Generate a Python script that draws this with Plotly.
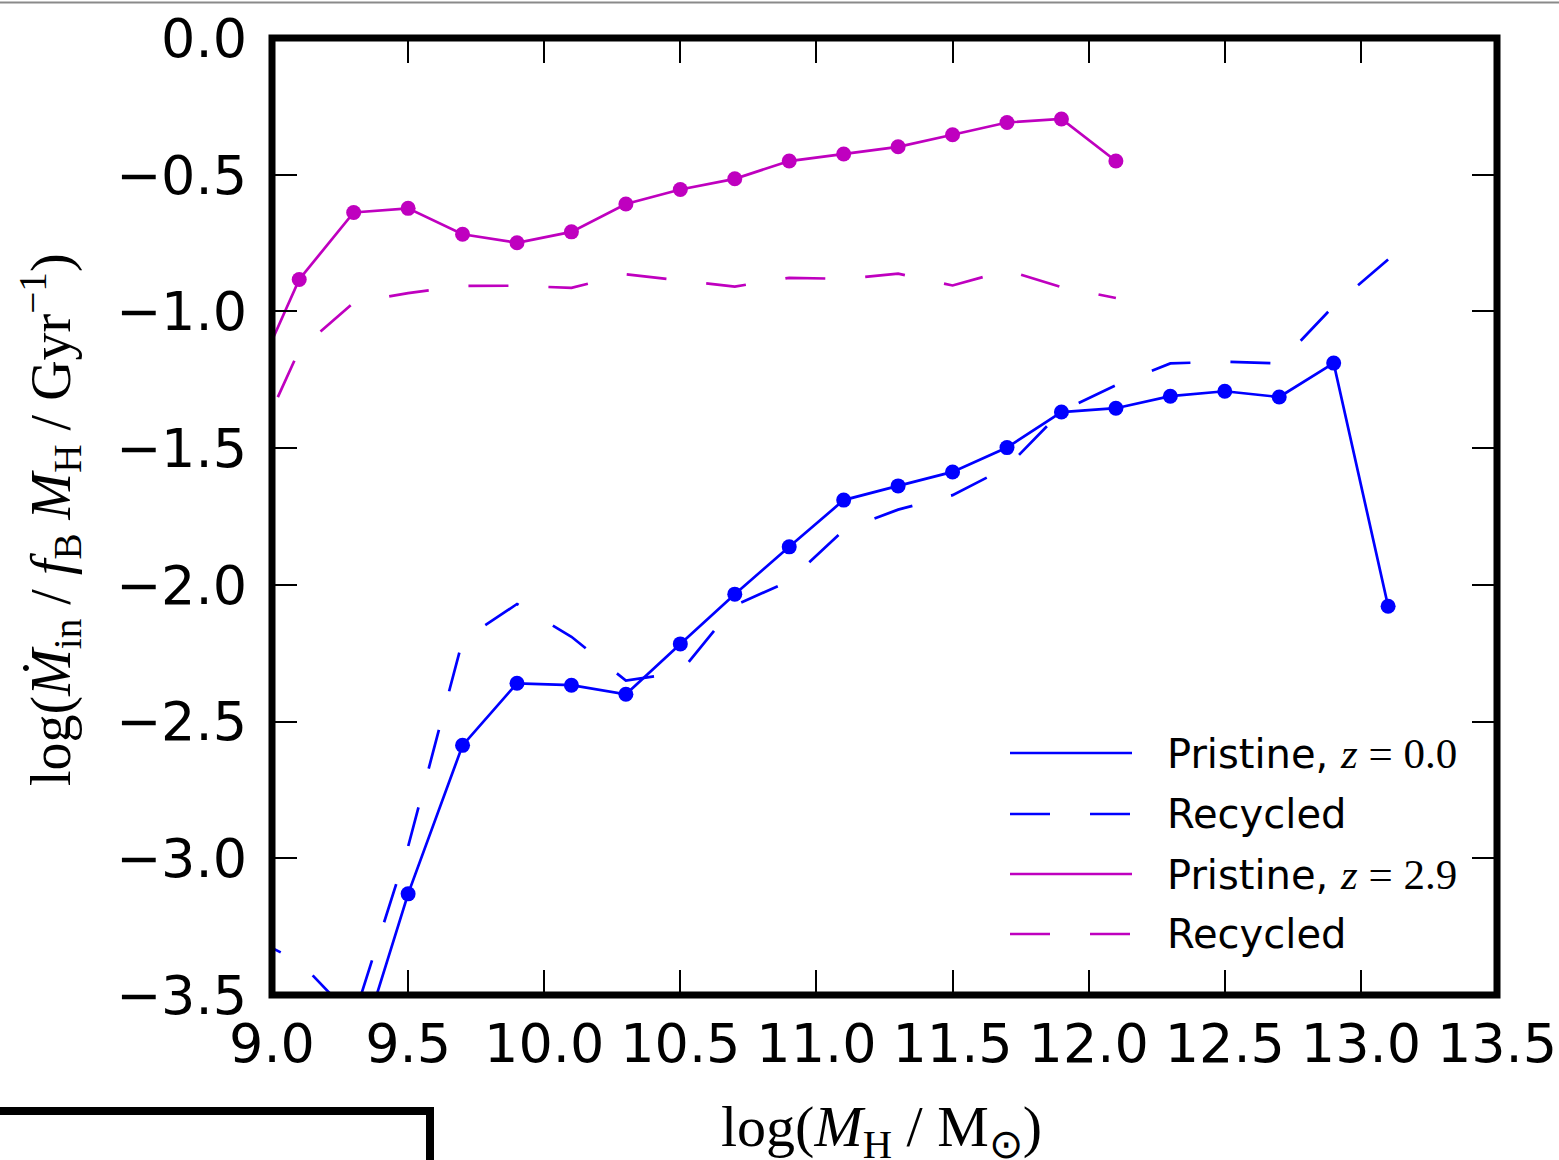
import plotly.graph_objects as go

# Halo mass bins, log(M_H / Msun)
mass_z0 = [9.3, 9.5, 9.7, 9.9, 10.1, 10.3, 10.5, 10.7, 10.9, 11.1, 11.3,
           11.5, 11.7, 11.9, 12.1, 12.3, 12.5, 12.7, 12.9, 13.1]
pristine_z0 = [-3.77, -3.13, -2.587, -2.36, -2.367, -2.40, -2.216, -2.034,
               -1.861, -1.69, -1.638, -1.587, -1.498, -1.368, -1.354, -1.31,
               -1.292, -1.313, -1.189, -2.078]

mass_z0_rec = [8.9, 9.1, 9.3, 9.5, 9.7, 9.9, 10.1, 10.3, 10.5, 10.7, 10.9,
               11.1, 11.3, 11.5, 11.7, 11.9, 12.1, 12.3, 12.5, 12.7, 12.9, 13.1]
recycled_z0 = [-3.28, -3.377, -3.585, -2.957, -2.203, -2.07, -2.19, -2.35,
               -2.32, -2.075, -1.986, -1.80, -1.725, -1.672, -1.57, -1.365,
               -1.27, -1.19, -1.184, -1.19, -0.98, -0.81]

mass_z29 = [8.9, 9.1, 9.3, 9.5, 9.7, 9.9, 10.1, 10.3, 10.5, 10.7, 10.9,
            11.1, 11.3, 11.5, 11.7, 11.9, 12.1]
pristine_z29 = [-1.33, -0.883, -0.638, -0.623, -0.718, -0.749, -0.709, -0.607,
                -0.554, -0.515, -0.450, -0.424, -0.398, -0.354, -0.309, -0.296,
                -0.450]
recycled_z29 = [-1.58, -1.141, -0.968, -0.933, -0.907, -0.906, -0.914, -0.864,
                -0.887, -0.909, -0.877, -0.881, -0.862, -0.905, -0.85, -0.911,
                -0.951]

x_ticks = [9.0, 9.5, 10.0, 10.5, 11.0, 11.5, 12.0, 12.5, 13.0, 13.5]
y_ticks = [0.0, -0.5, -1.0, -1.5, -2.0, -2.5, -3.0, -3.5]

BLUE = "#0000ff"
MAGENTA = "#bf00bf"
LW = 2.7
DASH = "40px,40px"
SANS = "DejaVu Sans"
SERIF = "Liberation Serif"

W, H = 1559, 1160
ML, MR, MT, MB = 272, 62, 38, 165
PW, PH = W - ML - MR, H - MT - MB


def px(xp):
    return (xp - ML) / PW


def py(yp):
    return (H - MB - yp) / PH


fig = go.Figure()

fig.add_trace(go.Scatter(x=mass_z0, y=pristine_z0, mode="lines+markers",
                         line=dict(color=BLUE, width=LW),
                         marker=dict(color=BLUE, size=15)))
fig.add_trace(go.Scatter(x=mass_z0_rec, y=recycled_z0, mode="lines",
                         line=dict(color=BLUE, width=LW, dash=DASH)))
fig.add_trace(go.Scatter(x=mass_z29, y=pristine_z29, mode="lines+markers",
                         line=dict(color=MAGENTA, width=LW),
                         marker=dict(color=MAGENTA, size=15)))
fig.add_trace(go.Scatter(x=mass_z29, y=recycled_z29, mode="lines",
                         line=dict(color=MAGENTA, width=LW, dash=DASH)))

shapes = [
    # axes frame
    dict(type="rect", xref="paper", yref="paper", x0=0, x1=1, y0=0, y1=1,
         line=dict(color="black", width=7), layer="above"),
    # thin rule along the top of the page
    dict(type="line", xref="paper", yref="paper", x0=px(0), x1=px(W),
         y0=py(2.5), y1=py(2.5), line=dict(color="#8a8a8a", width=2)),
    # frame of the neighbouring panel
    dict(type="line", xref="paper", yref="paper", x0=px(-5), x1=px(434),
         y0=py(1111), y1=py(1111), line=dict(color="black", width=8)),
    dict(type="line", xref="paper", yref="paper", x0=px(430), x1=px(430),
         y0=py(1107), y1=py(1170), line=dict(color="black", width=8)),
]

annotations = []

# legend drawn by hand so the line samples are full length
math = "<span style='font-family:%s;font-size:43px'><i>z</i> = %s</span>"
legend_rows = [
    (753, BLUE, "solid", "Pristine, " + math % (SERIF, "0.0")),
    (814, BLUE, DASH, "Recycled"),
    (874, MAGENTA, "solid", "Pristine, " + math % (SERIF, "2.9")),
    (934, MAGENTA, DASH, "Recycled"),
]
for yrow, col, dash, label in legend_rows:
    shapes.append(dict(type="line", xref="paper", yref="paper",
                       x0=px(1010), x1=px(1132), y0=py(yrow), y1=py(yrow),
                       line=dict(color=col, width=LW, dash=dash)))
    annotations.append(dict(xref="paper", yref="paper", x=px(1165), y=py(yrow),
                            xanchor="left", yanchor="middle", showarrow=False,
                            text=label, font=dict(family=SANS, size=40, color="black")))

annotations.append(dict(
    xref="paper", yref="paper", x=px(50), y=py(520), xanchor="center",
    yanchor="middle", showarrow=False, textangle=-90,
    text="log(<i>Ṁ</i><sub>in</sub> / <i>f</i><sub>B</sub> <i>M</i><sub>H</sub> / Gyr<sup>−1</sup>)",
    font=dict(family=SERIF, size=56, color="black")))
annotations.append(dict(
    xref="paper", yref="paper", x=px(881), y=py(1130), xanchor="center",
    yanchor="middle", showarrow=False,
    text="log(<i>M</i><sub>H</sub> / M<sub>⊙</sub>)",
    font=dict(family=SERIF, size=58, color="black")))

fig.update_layout(
    width=W, height=H,
    margin=dict(l=ML, r=MR, t=MT, b=MB, pad=0, autoexpand=False),
    paper_bgcolor="white", plot_bgcolor="white",
    showlegend=False,
    shapes=shapes, annotations=annotations,
    xaxis=dict(range=[9.0, 13.5], tickvals=x_ticks, tickformat=".1f",
               ticks="inside", ticklen=25, tickwidth=2, tickcolor="black",
               mirror="ticks", showline=False, showgrid=False, zeroline=False,
               ticklabelstandoff=12, automargin=False,
               tickfont=dict(family=SANS, size=54, color="black")),
    yaxis=dict(range=[-3.5, 0.0], tickvals=y_ticks, tickformat=".1f",
               ticks="inside", ticklen=25, tickwidth=2, tickcolor="black",
               mirror="ticks", showline=False, showgrid=False, zeroline=False,
               ticklabelstandoff=24, automargin=False,
               tickfont=dict(family=SANS, size=54, color="black")),
)

fig.write_html("out.html")
